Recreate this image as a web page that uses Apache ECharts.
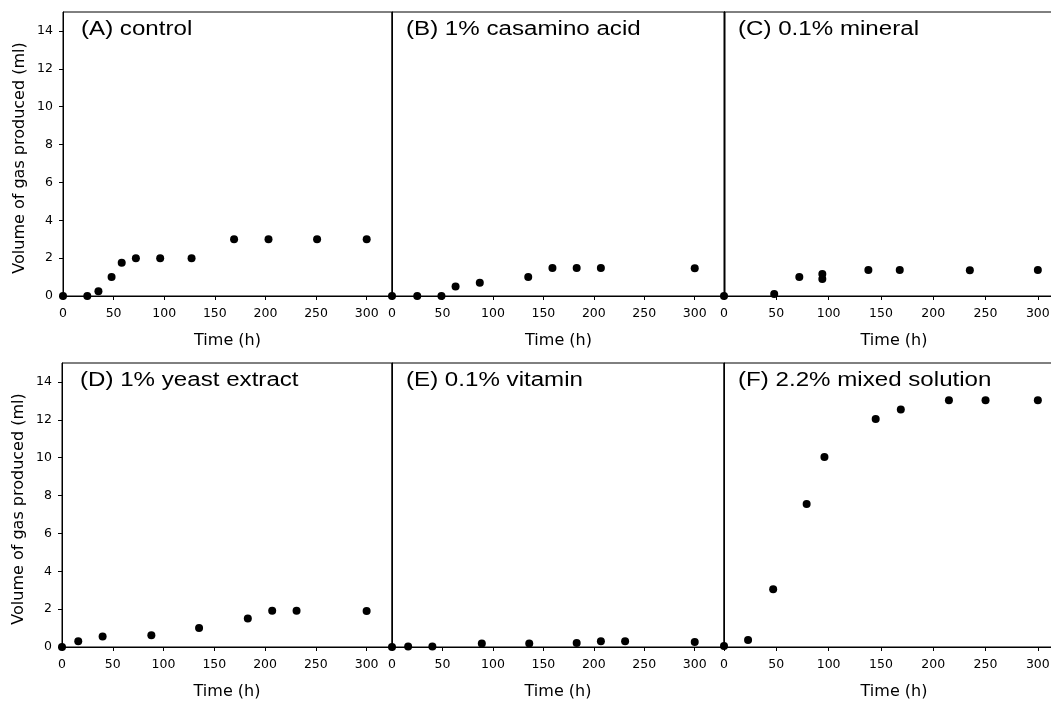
<!DOCTYPE html>
<html>
<head>
<meta charset="utf-8">
<title>Gas production over time</title>
<script src="https://cdn.jsdelivr.net/npm/echarts@6/dist/echarts.min.js"></script>
<style>
  html, body { margin: 0; padding: 0; background: #fff; }
  #chart { width: 1051px; height: 707px; }
</style>
</head>
<body>
<div id="chart"></div>
<script>
// Panel captions
const panelTitles = [
  '(A) control',
  '(B) 1% casamino acid',
  '(C) 0.1% mineral',
  '(D) 1% yeast extract',
  '(E) 0.1% vitamin',
  '(F) 2.2% mixed solution'
];

// Tick values
const timeTicks = [0, 50, 100, 150, 200, 250, 300];
const volumeTicks = [0, 2, 4, 6, 8, 10, 12, 14];

// Measured gas volume (ml) against incubation time (h)
const timeA = [0, 24, 35, 48, 58, 72, 96, 127, 169, 203, 251, 300];
const gasA  = [0, 0, 0.25, 1.0, 1.75, 2.0, 2.0, 2.0, 3.0, 3.0, 3.0, 3.0];

const timeB = [0, 25, 49, 63, 87, 135, 159, 183, 207, 300];
const gasB  = [0, 0, 0, 0.5, 0.7, 1.0, 1.48, 1.48, 1.48, 1.47];

const timeC = [0, 48, 72, 94, 94, 138, 168, 235, 300];
const gasC  = [0, 0.1, 1.0, 1.16, 0.9, 1.37, 1.37, 1.36, 1.37];

const timeD = [0, 16, 40, 88, 135, 183, 207, 231, 300];
const gasD  = [0, 0.3, 0.55, 0.62, 1.0, 1.5, 1.92, 1.92, 1.9];

const timeE = [0, 16, 40, 89, 136, 183, 207, 231, 300];
const gasE  = [0, 0.03, 0.02, 0.19, 0.19, 0.21, 0.3, 0.3, 0.26];

const timeF = [0, 23, 47, 79, 96, 145, 169, 215, 250, 300];
const gasF  = [0.05, 0.37, 3.05, 7.55, 10.04, 12.04, 12.54, 13.03, 13.03, 13.03];

const panelData = [
  [timeA, gasA], [timeB, gasB], [timeC, gasC],
  [timeD, gasD], [timeE, gasE], [timeF, gasF]
];

// Layout of the 2 x 3 panel grid (pixels) and per-panel time range
const panelBoxes = [
  { left: 63,  top: 12,  width: 329, height: 284, xMax: 325 },
  { left: 392, top: 12,  width: 333, height: 284, xMax: 330 },
  { left: 724, top: 12,  width: 340, height: 284, xMax: 325 },
  { left: 62,  top: 363, width: 330, height: 284, xMax: 325 },
  { left: 392, top: 363, width: 332, height: 284, xMax: 329 },
  { left: 724, top: 363, width: 340, height: 284, xMax: 325 }
];

const axisFont = 'DejaVu Sans';

const grids = [], xAxes = [], yAxes = [], series = [], graphics = [];

panelBoxes.forEach((b, i) => {
  const leftCol = (i % 3) === 0;
  grids.push({
    left: b.left, top: b.top, width: b.width, height: b.height,
    outerBoundsMode: 'none', containLabel: false,
    show: true, borderColor: '#000', borderWidth: 1, backgroundColor: 'transparent'
  });
  xAxes.push({
    gridIndex: i, type: 'value', min: 0, max: b.xMax,
    name: 'Time (h)', nameLocation: 'middle', nameGap: 37,
    nameTextStyle: { fontFamily: axisFont, fontSize: 16, color: '#000' },
    axisLine: { show: true, onZero: false, lineStyle: { color: '#000', width: 1 } },
    axisTick: { show: true, inside: false, length: 4, customValues: timeTicks,
                lineStyle: { color: '#000' } },
    axisLabel: { show: true, margin: 11, customValues: timeTicks,
                 fontFamily: axisFont, fontSize: 12.5, color: '#000' },
    splitLine: { show: false }
  });
  yAxes.push({
    gridIndex: i, type: 'value', min: 0, max: 15,
    name: leftCol ? 'Volume of gas produced (ml)' : '',
    nameLocation: 'middle', nameGap: 35, nameRotate: 90,
    nameTextStyle: { fontFamily: axisFont, fontSize: 16, color: '#000', padding: [0, 0, 0, -8] },
    axisLine: { show: true, lineStyle: { color: '#000', width: 1 } },
    axisTick: { show: leftCol, inside: false, length: 4, customValues: volumeTicks,
                lineStyle: { color: '#000' } },
    axisLabel: { show: leftCol, margin: 10, customValues: volumeTicks,
                 fontFamily: axisFont, fontSize: 12.5, color: '#000' },
    splitLine: { show: false }
  });
  const [t, v] = panelData[i];
  series.push({
    type: 'scatter', xAxisIndex: i, yAxisIndex: i,
    symbol: 'circle', symbolSize: 8,
    itemStyle: { color: '#000', opacity: 1 },
    clip: false,
    data: t.map((x, k) => [x, v[k]])
  });
  graphics.push({
    type: 'text',
    x: b.left + (leftCol ? 18 : 14),
    y: b.top + 8,
    scaleX: 1.27,
    scaleY: 1.05,
    style: {
      text: panelTitles[i],
      fill: '#000',
      font: '19px "Liberation Sans"',
      textAlign: 'left',
      textVerticalAlign: 'top'
    }
  });
});

const chart = echarts.init(document.getElementById('chart'), null, { renderer: 'canvas' });
chart.setOption({
  animation: false,
  backgroundColor: '#fff',
  grid: grids,
  xAxis: xAxes,
  yAxis: yAxes,
  series: series,
  graphic: graphics
});
</script>
</body>
</html>
